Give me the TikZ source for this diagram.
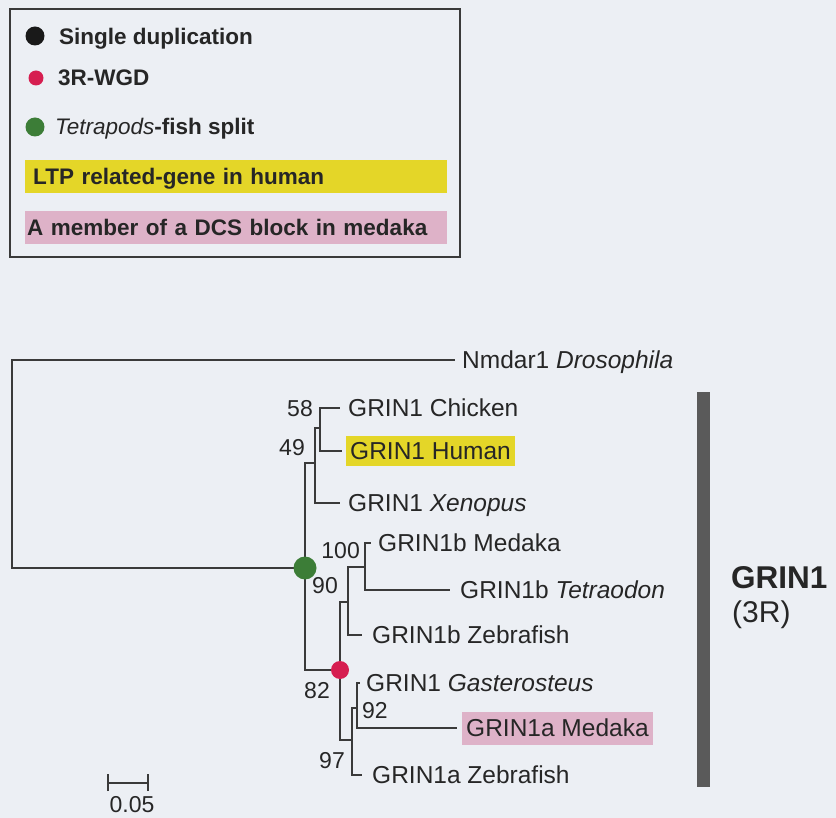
\documentclass[tikz,border=0pt]{standalone}
\usepackage{fontspec}
\setmainfont{Liberation Sans}
\definecolor{bgc}{RGB}{236,239,244}
\definecolor{inkc}{RGB}{38,38,38}
\definecolor{linec}{RGB}{58,58,58}
\definecolor{ltpyellow}{RGB}{228,214,40}
\definecolor{dcspink}{RGB}{222,178,200}
\definecolor{splitgreen}{RGB}{60,125,55}
\definecolor{wgdred}{RGB}{214,30,80}
\definecolor{barc}{RGB}{90,90,90}
\begin{document}
\begin{tikzpicture}[x=1pt,y=-1pt,
  br/.style={draw=linec, line width=2.5pt},
  leaf/.style={font=\fontsize{24.5pt}{29pt}\selectfont, text=inkc, inner sep=0pt, text height=17.5pt, text depth=0pt, anchor=west},
  boot/.style={font=\fontsize{23pt}{27pt}\selectfont, text=inkc, inner sep=0pt, text height=16.5pt, text depth=0pt},
  legtxt/.style={font=\fontsize{22.5pt}{27pt}\selectfont\bfseries, text=inkc, inner sep=0pt, text height=16pt, text depth=0pt, anchor=west},
  dotmark/.style={circle, inner sep=0pt, draw=none}
]
\useasboundingbox (0,0) rectangle (836,818);
\fill[bgc] (0,0) rectangle (836,818);

% ---------------- legend ----------------
\node[draw=linec, line width=2pt, minimum width=450pt, minimum height=248pt, anchor=north west, inner sep=0pt] (legend) at (9,8) {};
\node[dotmark, fill=black!90, minimum size=19pt] (d1) at (35,36) {};
\node[legtxt] (l1) at (59,37) {Single duplication};
\node[dotmark, fill=wgdred, minimum size=15pt] (d2) at (36,78) {};
\node[legtxt] (l2) at (58,78) {3R-WGD};
\node[dotmark, fill=splitgreen, minimum size=19pt] (d3) at (35,127) {};
\node[legtxt] (l3) at (55,127) {{\mdseries\itshape Tetrapods}-fish split};
\node[legtxt, fill=ltpyellow, inner xsep=8pt, inner ysep=8.5pt, text width=406pt, align=left] (l4) at (25,177) {LTP related-gene in human};
\node[legtxt, fill=dcspink, inner xsep=2pt, inner ysep=8.5pt, text width=418pt, align=left] (l5) at (25,228) {A member of a DCS block in medaka};

% ---------------- tree: internal nodes ----------------
\coordinate (root) at (12,464);
\coordinate (v) at (305,568);
\coordinate (tt) at (315,463);
\coordinate (c58) at (320,428);
\coordinate (ff) at (340,670);
\coordinate (fb) at (348,602);
\coordinate (f100) at (365,567);
\coordinate (fa) at (352,740);
\coordinate (f92) at (357,708);

% branch tips
\coordinate (t-nm) at (455,360);
\coordinate (t-chk) at (340,408);
\coordinate (t-hum) at (342,451);
\coordinate (t-xen) at (340,503);
\coordinate (t-medb) at (371,543);
\coordinate (t-tet) at (450,590);
\coordinate (t-zebb) at (362,635);
\coordinate (t-gas) at (360,683);
\coordinate (t-meda) at (457,728);
\coordinate (t-zeba) at (362,775);

% branches
\draw[br] (root) |- (t-nm);
\draw[br] (root) |- (v);
\draw[br] (v) |- (tt);
\draw[br] (v) |- (ff);
\draw[br] (tt) |- (c58);
\draw[br] (tt) |- (t-xen);
\draw[br] (c58) |- (t-chk);
\draw[br] (c58) |- (t-hum);
\draw[br] (ff) |- (fb);
\draw[br] (ff) |- (fa);
\draw[br] (fb) |- (f100);
\draw[br] (fb) |- (t-zebb);
\draw[br] (f100) |- (t-medb);
\draw[br] (f100) |- (t-tet);
\draw[br] (fa) |- (f92);
\draw[br] (fa) |- (t-zeba);
\draw[br] (f92) |- (t-gas);
\draw[br] (f92) |- (t-meda);

% event dots
\node[dotmark, fill=splitgreen, minimum size=23pt] (gdot) at (v) {};
\node[dotmark, fill=wgdred, minimum size=18pt] (rdot) at (ff) {};

% leaf labels
\node[leaf] (n-nm) at (462,360) {Nmdar1 \textit{Drosophila}};
\node[leaf] (n-chk) at (348,408) {GRIN1 Chicken};
\node[leaf, fill=ltpyellow, inner xsep=4pt, inner ysep=6.5pt] (n-hum) at (346,451) {GRIN1 Human};
\node[leaf] (n-xen) at (348,503) {GRIN1 \textit{Xenopus}};
\node[leaf] (n-medb) at (378,543) {GRIN1b Medaka};
\node[leaf] (n-tet) at (460,590) {GRIN1b \textit{Tetraodon}};
\node[leaf] (n-zebb) at (372,635) {GRIN1b Zebrafish};
\node[leaf] (n-gas) at (366,683) {GRIN1 \textit{Gasterosteus}};
\node[leaf, fill=dcspink, inner xsep=4pt, inner ysep=7.75pt] (n-meda) at (462,728) {GRIN1a Medaka};
\node[leaf] (n-zeba) at (372,775) {GRIN1a Zebrafish};

% bootstrap values
\node[boot, anchor=east] (b58) at (313,408) {58};
\node[boot, anchor=east] (b49) at (305,447) {49};
\node[boot, anchor=east] (b100) at (360,550) {100};
\node[boot, anchor=east] (b90) at (338,585) {90};
\node[boot, anchor=east] (b82) at (330,690) {82};
\node[boot, anchor=west] (b92) at (362,710) {92};
\node[boot, anchor=east] (b97) at (345,760) {97};

% scale bar
\coordinate (sb1) at (108,783);
\coordinate (sb2) at (148,783);
\draw[br] (sb1) -- (sb2);
\draw[br] ([yshift=-8pt]sb1) -- ([yshift=9pt]sb1);
\draw[br] ([yshift=-8pt]sb2) -- ([yshift=9pt]sb2);
\node[boot, anchor=center] (sbl) at (132,804) {0.05};

% clade bar
\fill[barc] (697,392) rectangle (710,787);
\node[font=\fontsize{31.5pt}{36pt}\selectfont\bfseries, text=inkc, inner sep=0pt, text height=23pt, text depth=0pt, anchor=west] (cl1) at (731,577) {GRIN1};
\node[font=\fontsize{30pt}{34pt}\selectfont, text=inkc, inner sep=0pt, text height=21pt, text depth=5pt, anchor=west] (cl2) at (732,614) {(3R)};
\end{tikzpicture}
\end{document}
